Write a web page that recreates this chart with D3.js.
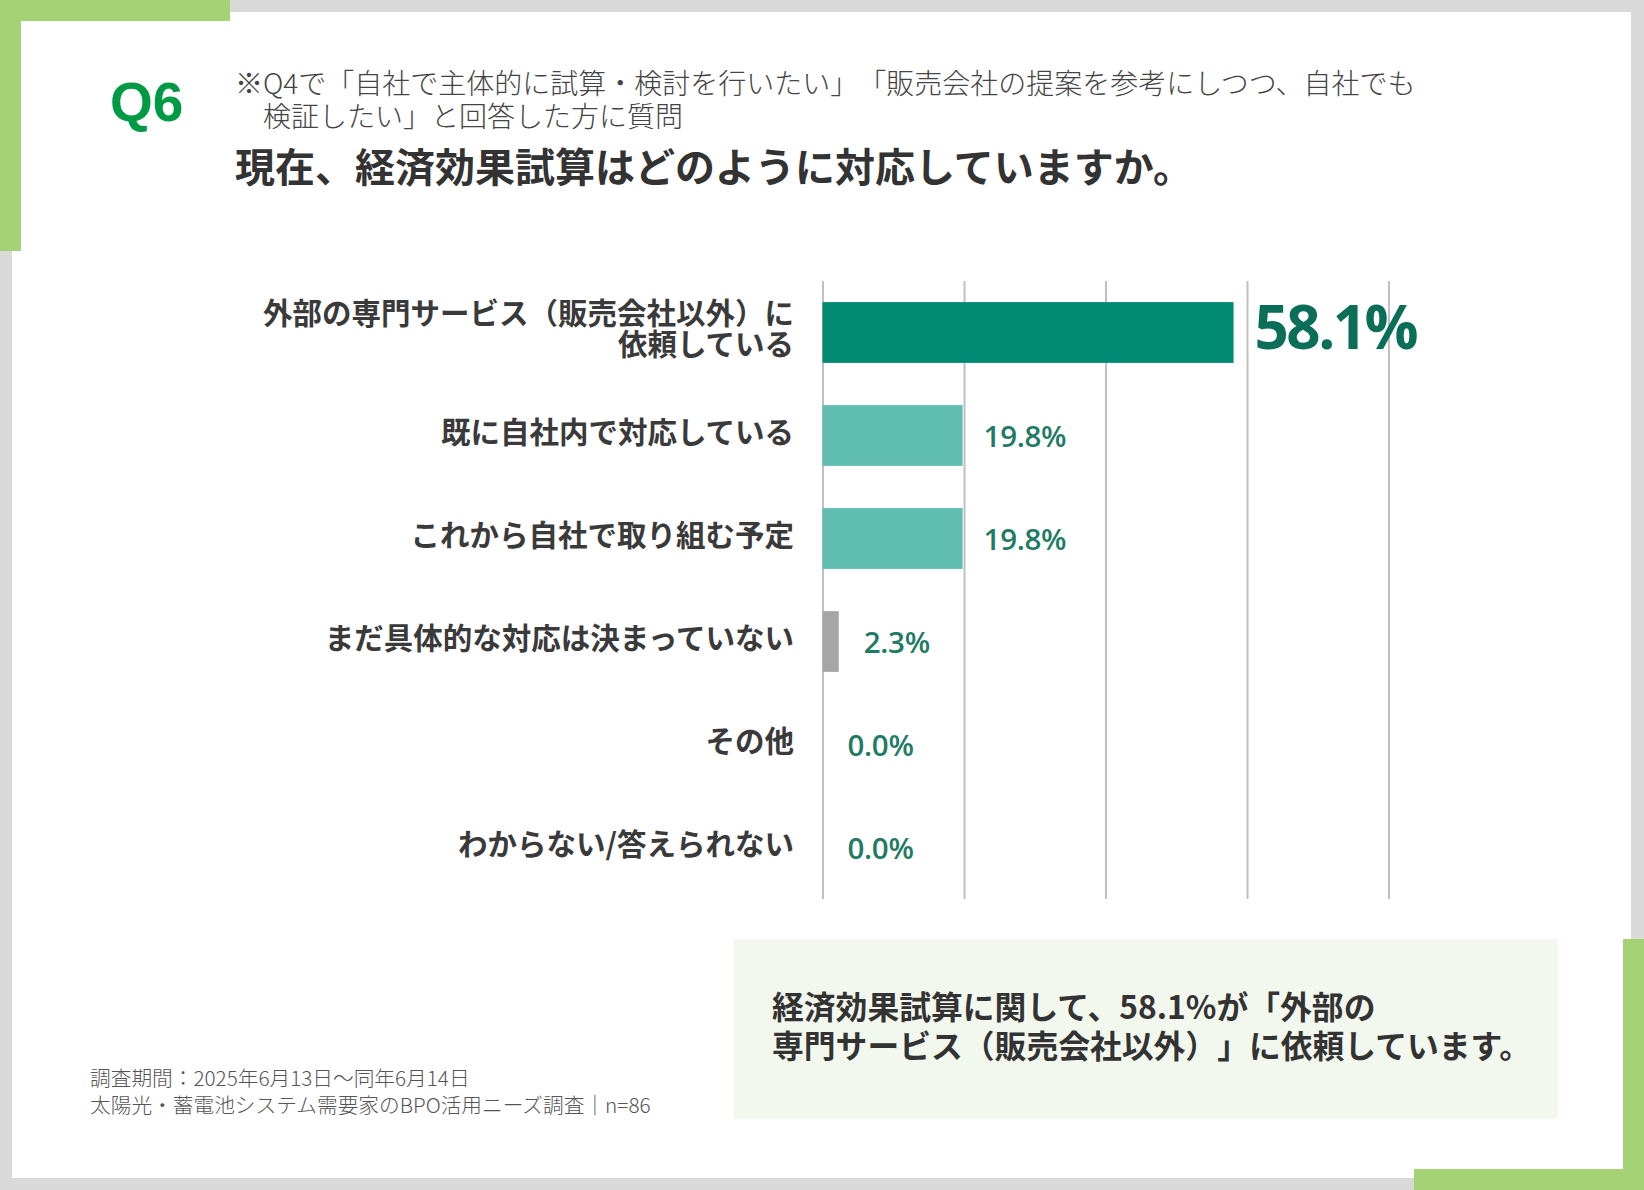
<!DOCTYPE html>
<html>
<head>
<meta charset="utf-8">
<script src="https://cdn.jsdelivr.net/npm/d3@7"></script>
<style>
  body { margin: 0; background: #d9d9d9; }
  svg { display: block; }
  text { text-spacing-trim: space-all; }
</style>
</head>
<body>
<script>
// chart data
var categories = [
  "外部の専門サービス（販売会社以外）に\n依頼している",
  "既に自社内で対応している",
  "これから自社で取り組む予定",
  "まだ具体的な対応は決まっていない",
  "その他",
  "わからない/答えられない"
];
var values = [58.1, 19.8, 19.8, 2.3, 0.0, 0.0];
var barColors = ["#008a73", "#5fbdb2", "#5fbdb2", "#a6a6a6", "#a6a6a6", "#a6a6a6"];
var gridTicks = [0, 20, 40, 60, 80];

var subtitleLines = [
  "※Q4で「自社で主体的に試算・検討を行いたい」「販売会社の提案を参考にしつつ、自社でも",
  "\u3000検証したい」と回答した方に質問"
];
var titleText = "現在、経済効果試算はどのように対応していますか。";
var noteLines = [
  "経済効果試算に関して、58.1%が「外部の",
  "専門サービス（販売会社以外）」に依頼しています。"
];
var footLines = [
  "調査期間：2025年6月13日〜同年6月14日",
  "太陽光・蓄電池システム需要家のBPO活用ニーズ調査｜n=86"
];

var W = 1644, H = 1190;
var jp = "'Noto Sans CJK JP', 'Noto Sans', sans-serif";
var green = "#a5d274";

var svg = d3.select("body").append("svg")
    .attr("width", W)
    .attr("height", H);

// frame
svg.append("rect").attr("width", W).attr("height", H).attr("fill", "#d9d9d9");
svg.append("rect").attr("x", 12).attr("y", 12).attr("width", 1619).attr("height", 1166).attr("fill", "#fff");
svg.append("rect").attr("x", 0).attr("y", 0).attr("width", 230).attr("height", 21).attr("fill", green);
svg.append("rect").attr("x", 0).attr("y", 0).attr("width", 21).attr("height", 251).attr("fill", green);
svg.append("rect").attr("x", 1623).attr("y", 939).attr("width", 21).attr("height", 251).attr("fill", green);
svg.append("rect").attr("x", 1414).attr("y", 1169).attr("width", 230).attr("height", 21).attr("fill", green);

// heading
svg.append("text")
    .attr("x", 110).attr("y", 121)
    .attr("font-family", "'Liberation Sans', Arial, sans-serif")
    .attr("font-weight", "bold")
    .attr("font-size", 55)
    .attr("fill", "#009944")
    .text("Q6");

svg.selectAll("text.sub").data(subtitleLines).enter().append("text")
    .attr("class", "sub")
    .attr("x", 235)
    .attr("y", function (d, i) { return 82 + i * 33; })
    .attr("dominant-baseline", "central")
    .attr("font-family", jp)
    .attr("font-weight", 300)
    .attr("font-size", 28)
    .attr("fill", "#444")
    .text(function (d) { return d; });

svg.append("text")
    .attr("x", 235).attr("y", 165)
    .attr("dominant-baseline", "central")
    .attr("font-family", jp)
    .attr("font-weight", "bold")
    .attr("font-size", 40)
    .attr("fill", "#333")
    .text(titleText);

// scales
var plotTop = 281, plotBottom = 899;
var x = d3.scaleLinear().domain([0, 80]).range([822.5, 1388.5]);
var y = d3.scaleBand().domain(categories).range([plotTop, plotBottom])
    .paddingInner(0.41).paddingOuter(0.205);

// grid
var grid = svg.append("g")
    .attr("transform", "translate(0," + plotTop + ")")
    .call(d3.axisBottom(x).tickValues(gridTicks).tickSize(plotBottom - plotTop).tickFormat(""));
grid.select(".domain").remove();
grid.selectAll(".tick line").attr("stroke", "#c0c0c0").attr("stroke-width", 2);

// bars
svg.selectAll("rect.bar").data(values).enter().append("rect")
    .attr("class", "bar")
    .attr("x", x(0))
    .attr("y", function (d, i) { return y(categories[i]); })
    .attr("width", function (d) { return x(d) - x(0); })
    .attr("height", y.bandwidth())
    .attr("fill", function (d, i) { return barColors[i]; });

// value labels
svg.selectAll("text.val").data(values).enter().append("text")
    .attr("class", "val")
    .attr("x", function (d) { return x(d) + (d < 10 ? 25 : 21); })
    .attr("y", function (d, i) {
        return y(categories[i]) + y.bandwidth() / 2 - (i === 0 ? 7 : 0);
    })
    .attr("dominant-baseline", "central")
    .attr("font-family", "'Open Sans', 'Noto Sans', sans-serif")
    .attr("font-weight", function (d, i) { return i === 0 ? 700 : 600; })
    .attr("font-size", function (d, i) { return i === 0 ? 60 : 29.5; })
    .attr("letter-spacing", function (d, i) { return i === 0 ? -2.5 : -0.3; })
    .attr("fill", function (d, i) { return i === 0 ? "#0b6e58" : "#1f7b64"; })
    .text(function (d) { return d.toFixed(1) + "%"; });

// category labels
svg.selectAll("text.cat").data(categories).enter().append("text")
    .attr("class", "cat")
    .attr("text-anchor", "end")
    .attr("font-family", jp)
    .attr("font-weight", "bold")
    .attr("font-size", 29.5)
    .attr("fill", "#3a3a3a")
    .each(function (d) {
        var lines = d.split("\n");
        var cy = y(d) + y.bandwidth() / 2 - 6;
        var lh = 30.5;
        d3.select(this).selectAll("tspan").data(lines).enter().append("tspan")
            .attr("x", 794)
            .attr("y", function (l, j) { return cy + (j - (lines.length - 1) / 2) * lh; })
            .attr("dominant-baseline", "central")
            .text(function (l) { return l; });
    });

// note box
svg.append("rect")
    .attr("x", 734).attr("y", 939).attr("width", 824).attr("height", 180)
    .attr("fill", "#f3f8ee");
svg.selectAll("text.note").data(noteLines).enter().append("text")
    .attr("class", "note")
    .attr("x", 772)
    .attr("y", function (d, i) { return 1005 + i * 39; })
    .attr("dominant-baseline", "central")
    .attr("font-family", jp)
    .attr("font-weight", "bold")
    .attr("font-size", 31.8)
    .attr("fill", "#333")
    .text(function (d) { return d; });

// footnote
svg.selectAll("text.foot").data(footLines).enter().append("text")
    .attr("class", "foot")
    .attr("x", 90)
    .attr("y", function (d, i) { return 1077 + i * 27; })
    .attr("dominant-baseline", "central")
    .attr("font-family", jp)
    .attr("font-weight", 300)
    .attr("font-size", 20.7)
    .attr("fill", "#555")
    .text(function (d) { return d; });
</script>
</body>
</html>
